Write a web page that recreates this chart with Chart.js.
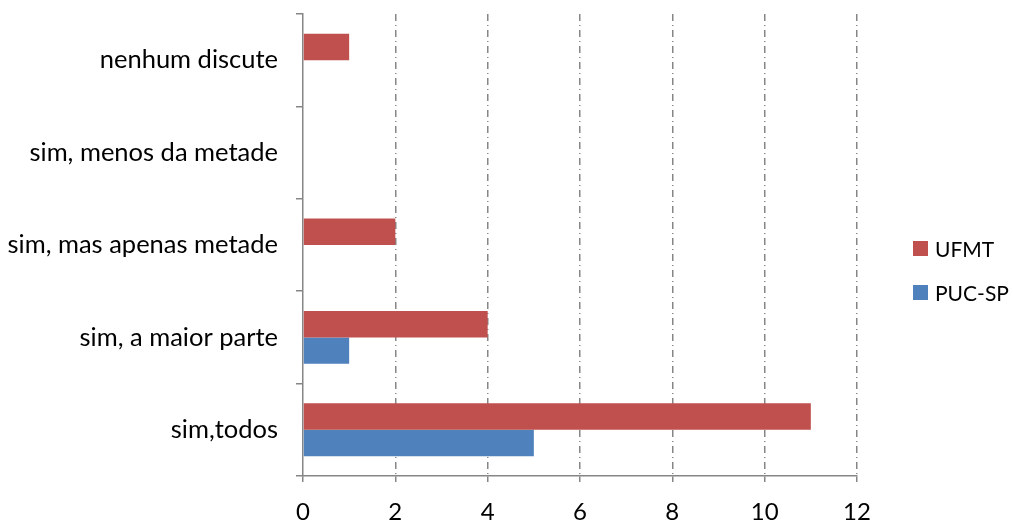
<!DOCTYPE html>
<html>
<head>
<meta charset="utf-8">
<script src="https://cdn.jsdelivr.net/npm/chart.js@4/dist/chart.umd.min.js"></script>
<style>
  body { margin: 0; background: #fff; }
  #wrap { position: relative; width: 1013px; height: 528px; }
  .legend { position: absolute; left: 913px; font-family: Lato, sans-serif; font-size: 21px; color: #000; display: flex; align-items: center; white-space: nowrap; }
  .legend span.box { display: inline-block; width: 15px; height: 15px; margin-right: 7px; }
</style>
</head>
<body>
<div id="wrap">
  <canvas id="chart" width="1013" height="528"></canvas>
  <div class="legend" style="top: 236px;"><span class="box" style="background:#C0504D"></span>UFMT</div>
  <div class="legend" style="top: 280px;"><span class="box" style="background:#4F81BD"></span>PUC-SP</div>
</div>
<script>
const categories = ["nenhum discute", "sim, menos da metade", "sim, mas apenas metade", "sim, a maior parte", "sim,todos"];
const ufmt = [1, 0, 2, 4, 11];
const pucsp = [0, 0, 0, 1, 5];
const seriesNames = ["UFMT", "PUC-SP"];

const gray = "#868686";

new Chart(document.getElementById("chart"), {
  type: "bar",
  data: {
    labels: categories,
    datasets: [
      { label: seriesNames[0], data: ufmt, backgroundColor: "#C0504D" },
      { label: seriesNames[1], data: pucsp, backgroundColor: "#4F81BD" },
    ],
  },
  options: {
    indexAxis: "y",
    responsive: false,
    animation: false,
    categoryPercentage: 0.573,
    barPercentage: 1,
    layout: { padding: { left: 0, right: 156, top: 14, bottom: 0 } },
    plugins: { legend: { display: false }, tooltip: { enabled: false } },
    scales: {
      x: {
        min: 0,
        max: 12,
        ticks: { stepSize: 2, color: "#000", font: { family: "Lato, sans-serif", size: 24 }, padding: 16 },
        grid: {
          color: (c) => (c.tick && c.tick.value === 0 ? "rgba(0,0,0,0)" : gray),
          lineWidth: 1.5,
          tickLength: 6,
          tickColor: gray,
          tickBorderDash: [],
        },
        border: { color: gray, width: 1.5, dash: [7, 4, 1, 4] },
        afterFit: (s) => { s.height = 52; s.paddingLeft = 0; s.paddingRight = 0; },
      },
      y: {
        ticks: { color: "#000", font: { family: "Lato, sans-serif", size: 25.5 }, padding: 18 },
        grid: { drawOnChartArea: false, color: gray, lineWidth: 1.5, tickLength: 7, offset: true },
        border: { color: gray, width: 1.5 },
        afterFit: (s) => { s.width = 303; s.paddingTop = 0; s.paddingBottom = 0; },
      },
    },
  },
});
</script>
</body>
</html>
